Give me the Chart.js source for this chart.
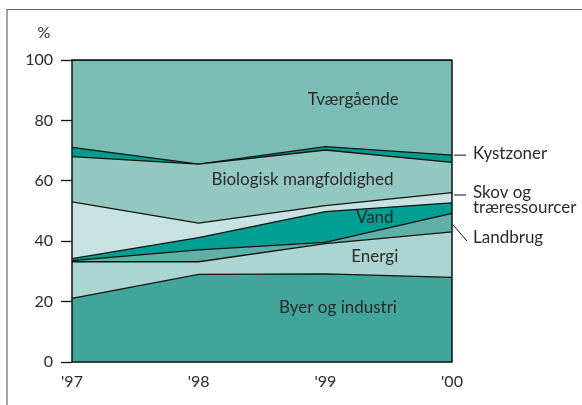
<!DOCTYPE html>
<html>
<head>
<meta charset="utf-8">
<script src="https://cdn.jsdelivr.net/npm/chart.js@4"></script>
<style>
  body { margin: 0; background: #fff; }
  #wrap { position: relative; width: 582px; height: 405px; }
</style>
</head>
<body>
<div id="wrap"><canvas id="myChart" width="582" height="405"></canvas></div>
<script>
const years = ["'97", "'98", "'99", "'00"];

// andele i procent, nedefra og op
const byer = [21.1, 29.0, 29.2, 28.0];
const energi = [12.1, 4.2, 10.0, 15.1];
const landbrug = [0.4, 3.9, 0.4, 6.1];
const vand = [0.6, 4.1, 10.2, 3.5];
const skov = [18.8, 4.8, 2.0, 3.4];
const biologisk = [15.0, 19.5, 18.4, 10.0];
const kystzoner = [3.1, 0.0, 1.1, 2.4];
const tvaergaaende = [28.9, 34.5, 28.7, 31.5];

const yTicks = [0, 20, 40, 60, 80, 100];

const FONT = "Lato, 'Open Sans', sans-serif";
const TEXT = "#2b2b2b";

const series = [
  { label: "Byer og industri", data: byer, color: "#42a59c" },
  { label: "Energi", data: energi, color: "#abd5d0" },
  { label: "Landbrug", data: landbrug, color: "#5fb0a7" },
  { label: "Vand", data: vand, color: "#009e93" },
  { label: "Skov og træressourcer", data: skov, color: "#c6e3e2" },
  { label: "Biologisk mangfoldighed", data: biologisk, color: "#93c8c1" },
  { label: "Kystzoner", data: kystzoner, color: "#009b8f" },
  { label: "Tværgående", data: tvaergaaende, color: "#7bbcb5" }
];

// tekster inde i arealerne: [tekst, x-indeks, værdi]
const inlineLabels = [
  ["Tværgående", 2.22, 86.8],
  ["Biologisk mangfoldighed", 1.82, 60.3],
  ["Vand", 2.39, 47.7],
  ["Energi", 2.39, 34.8],
  ["Byer og industri", 2.10, 18.2]
];

// tekster til højre med streg: [linjer, streg fra værdi, tekst ved værdi, skrå]
const sideLabels = [
  [["Kystzoner"], 68.5, 68.5, false],
  [["Skov og"], 55.3, 55.3, false],
  [["træressourcer"], null, 50.4, false],
  [["Landbrug"], 45.4, 40.4, true]
];

const extras = {
  id: "extras",
  beforeDraw(chart) {
    const ctx = chart.ctx;
    ctx.save();
    ctx.strokeStyle = "#666";
    ctx.lineWidth = 1.2;
    ctx.beginPath();
    ctx.moveTo(7, 405);
    ctx.lineTo(7, 9.5);
    ctx.lineTo(582, 9.5);
    ctx.stroke();
    ctx.restore();
  },
  afterDatasetsDraw(chart) {
    const ctx = chart.ctx;
    const a = chart.chartArea;
    const xs = chart.scales.x;
    const ys = chart.scales.y;
    ctx.save();
    ctx.strokeStyle = "#111";
    ctx.lineWidth = 1.5;
    ctx.strokeRect(a.left, a.top, a.right - a.left, a.bottom - a.top);

    ctx.fillStyle = TEXT;
    ctx.font = "16px " + FONT;
    ctx.textAlign = "center";
    ctx.textBaseline = "middle";
    ctx.fillText("%", a.left - 28, a.top - 27);

    ctx.font = "17px " + FONT;
    inlineLabels.forEach(([t, i, v]) => {
      ctx.fillText(t, xs.getPixelForValue(i), ys.getPixelForValue(v));
    });

    ctx.textAlign = "left";
    ctx.lineWidth = 1;
    sideLabels.forEach(([lines, from, at, slanted]) => {
      const y1 = ys.getPixelForValue(at);
      if (from !== null) {
        const y0 = ys.getPixelForValue(from);
        ctx.beginPath();
        if (slanted) {
          ctx.moveTo(a.right + 1, y0);
          ctx.lineTo(a.right + 15, y1 + 1);
        } else {
          ctx.moveTo(a.right + 2, y0);
          ctx.lineTo(a.right + 14, y0);
        }
        ctx.stroke();
      }
      lines.forEach((l, k) => ctx.fillText(l, a.right + 21, y1 - 2 + k * 15));
    });
    ctx.restore();
  }
};

const config = {
  type: "line",
  data: {
    labels: years,
    datasets: series.map((s, i) => ({
      label: s.label,
      data: s.data,
      backgroundColor: s.color,
      borderColor: "#111",
      borderWidth: 1.3,
      pointRadius: 0,
      tension: 0,
      fill: i === 0 ? "origin" : "-1"
    }))
  },
  options: {
    responsive: false,
    animation: false,
    layout: { padding: { left: 0, right: 130, top: 60, bottom: 0 } },
    plugins: {
      legend: { display: false },
      tooltip: { enabled: false }
    },
    scales: {
      x: {
        offset: false,
        grid: { display: false, drawTicks: false },
        border: { display: false },
        ticks: { color: TEXT, font: { family: FONT, size: 16 }, padding: 10, maxRotation: 0 },
        afterFit(scale) { scale.height = 43; }
      },
      y: {
        stacked: true,
        min: 0,
        max: 100,
        afterBuildTicks(scale) { scale.ticks = yTicks.map(v => ({ value: v })); },
        grid: { drawOnChartArea: false, tickLength: 11, tickColor: "#111", tickWidth: 1.3 },
        border: { display: false },
        ticks: { color: TEXT, font: { family: FONT, size: 16 }, padding: 8 },
        afterFit(scale) { scale.width = 72; }
      }
    }
  },
  plugins: [extras]
};

new Chart(document.getElementById("myChart"), config);
</script>
</body>
</html>
